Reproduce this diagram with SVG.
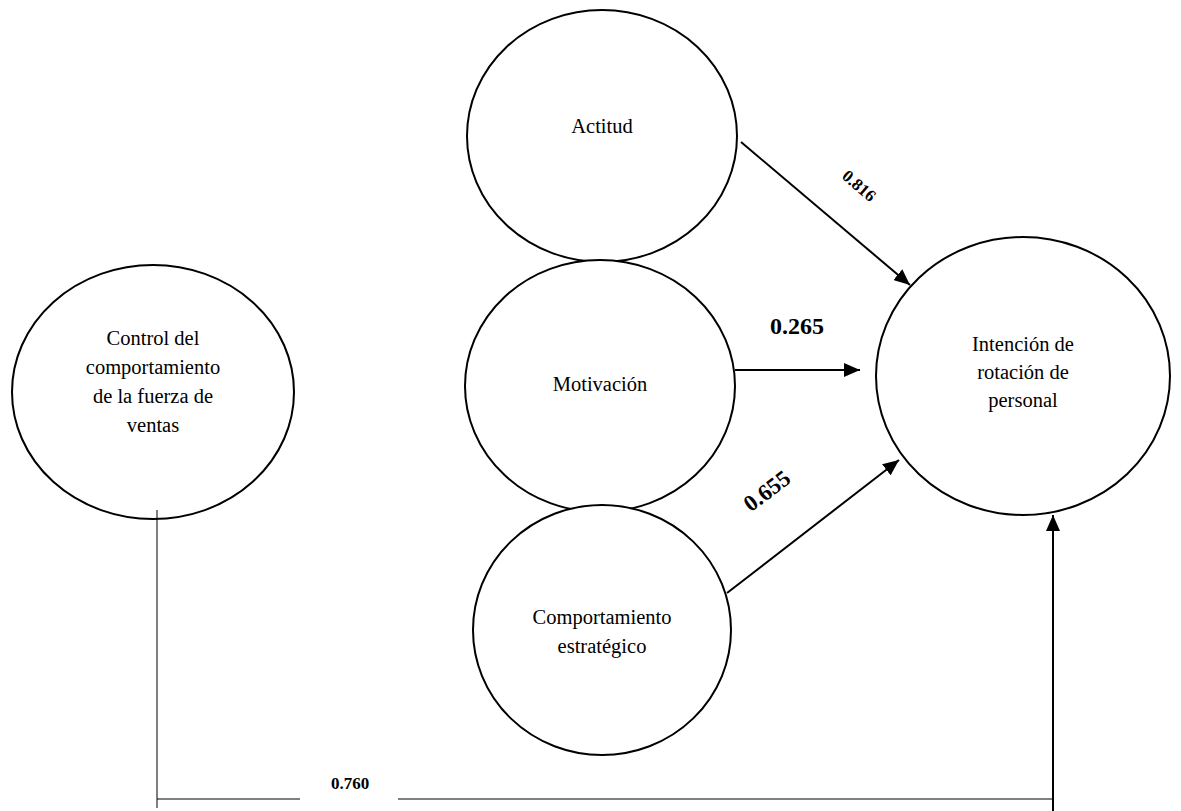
<svg xmlns="http://www.w3.org/2000/svg" width="1181" height="811" viewBox="0 0 1181 811">
<style>
.node ellipse{fill:#fff;stroke:#000;stroke-width:2}
.lbl{font-family:"Liberation Serif","Times New Roman",serif;font-size:20.5px;fill:#000;text-anchor:middle;dominant-baseline:central}
.w{font-family:"Liberation Serif","Times New Roman",serif;font-weight:bold;fill:#000;text-anchor:middle;dominant-baseline:central}
.arr{stroke:#000;stroke-width:2;fill:none}
.thin{stroke:#000;stroke-width:1;fill:none}
</style>
<defs>
<marker id="ahb" markerWidth="16" markerHeight="14" refX="16" refY="7" orient="auto" markerUnits="userSpaceOnUse" viewBox="0 0 16 14">
<path d="M0,0 L16,7 L0,14 Z" fill="#000"/>
</marker>
</defs>
<rect width="1181" height="811" fill="#fff"/>
<g id="control" class="node">
<ellipse cx="153" cy="392" rx="141" ry="127"/>
<text class="lbl" x="153" y="338">Control del</text>
<text class="lbl" x="153" y="367">comportamiento</text>
<text class="lbl" x="153" y="396">de la fuerza de</text>
<text class="lbl" x="153" y="425">ventas</text>
</g>
<g id="actitud" class="node">
<ellipse cx="602" cy="136" rx="135" ry="126"/>
<text class="lbl" x="602" y="126">Actitud</text>
</g>
<g id="motivacion" class="node">
<ellipse cx="600" cy="386" rx="135" ry="126"/>
<text class="lbl" x="600" y="384">Motivación</text>
</g>
<g id="comportamiento" class="node">
<ellipse cx="602" cy="630" rx="129" ry="125"/>
<text class="lbl" x="602" y="617">Comportamiento</text>
<text class="lbl" x="602" y="646">estratégico</text>
</g>
<g id="intencion" class="node">
<ellipse cx="1023" cy="376" rx="147" ry="139"/>
<text class="lbl" x="1023" y="344">Intención de</text>
<text class="lbl" x="1023" y="372">rotación de</text>
<text class="lbl" x="1023" y="400">personal</text>
</g>
<g id="connectors">
<line class="arr" x1="741" y1="142" x2="910" y2="285" marker-end="url(#ahb)"/>
<line class="arr" x1="735" y1="370" x2="860" y2="370" marker-end="url(#ahb)"/>
<line class="arr" x1="727" y1="593" x2="899" y2="460" marker-end="url(#ahb)"/>
<line class="thin" x1="157" y1="510" x2="157" y2="808"/>
<line class="thin" x1="157" y1="799" x2="300" y2="799"/>
<line class="thin" x1="398" y1="799" x2="1053" y2="799"/>
<line class="arr" x1="1053" y1="811" x2="1053" y2="515" marker-end="url(#ahb)"/>
</g>
<g id="labels">
<text class="w" font-size="17" transform="translate(859,186) rotate(41)">0.816</text>
<text class="w" font-size="24" x="797" y="326">0.265</text>
<text class="w" font-size="23" transform="translate(767,491) rotate(-37)">0.655</text>
<text class="w" font-size="17" x="350" y="783">0.760</text>
</g>
</svg>
